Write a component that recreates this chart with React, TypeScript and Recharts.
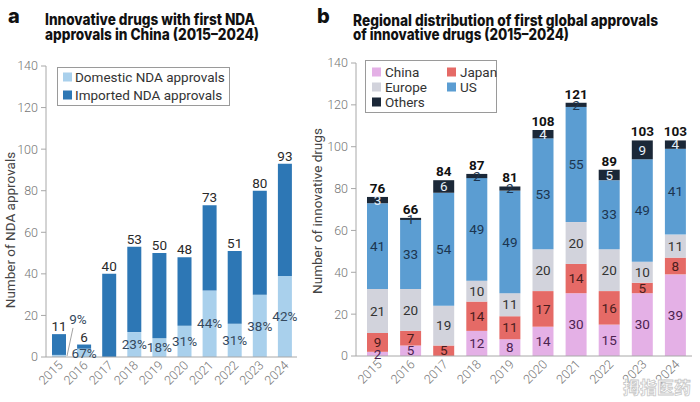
import React from 'react';
import { BarChart, Bar, XAxis, YAxis, LabelList } from 'recharts';

if (typeof document !== 'undefined') {
  document.body.style.margin = '0';
}

// ---------- data ----------
const years = ['2015', '2016', '2017', '2018', '2019', '2020', '2021', '2022', '2023', '2024'];

// Panel a
const domesticNda = [1, 4, 0, 12, 9, 15, 32, 16, 30, 39];
const importedNda = [10, 2, 40, 41, 41, 33, 41, 35, 50, 54];
const ndaTotals = [11, 6, 40, 53, 50, 48, 73, 51, 80, 93];
const domesticShare = ['9%', '67%', '', '23%', '18%', '31%', '44%', '31%', '38%', '42%'];

// Panel b
const chinaFirst = [2, 5, 0, 12, 8, 14, 30, 15, 30, 39];
const japanFirst = [9, 7, 5, 14, 11, 17, 14, 16, 5, 8];
const europeFirst = [21, 20, 19, 10, 11, 20, 20, 20, 10, 11];
const usFirst = [41, 33, 54, 49, 49, 53, 55, 33, 49, 41];
const othersFirst = [3, 1, 6, 2, 2, 4, 2, 5, 9, 4];
const globalTotals = [76, 66, 84, 87, 81, 108, 121, 89, 103, 103];

const yTicks = [0, 20, 40, 60, 80, 100, 120, 140];

const legendA = ['Domestic NDA approvals', 'Imported NDA approvals'];
const legendB = ['China', 'Japan', 'Europe', 'US', 'Others'];

// ---------- tables ----------
const ndaData = years.map((year, i) => ({
  year,
  domestic: domesticNda[i],
  imported: importedNda[i],
  total: ndaTotals[i],
  pct: domesticShare[i],
}));

const globalData = years.map((year, i) => ({
  year,
  china: chinaFirst[i],
  japan: japanFirst[i],
  europe: europeFirst[i],
  us: usFirst[i],
  others: othersFirst[i],
  total: globalTotals[i],
}));

// ---------- styles ----------
const C = {
  domestic: '#a9d0ec',
  imported: '#2d77b5',
  china: '#e4b0e6',
  japan: '#e56a66',
  europe: '#d2d3dc',
  us: '#5b9dd2',
  others: '#1b2838',
};
const FONT = 'Roboto, "Noto Sans", sans-serif';
const TITLE_FONT = 'Inter, "Open Sans", sans-serif';
const tickGray = '#767676';
const axisGray = '#a8a8a8';

const XTick = (props: any) => {
  const { x, y, payload } = props;
  const ax = x + 5;
  const ay = y + 9;
  return (
    <text
      x={ax}
      y={ay}
      transform={`rotate(-45 ${ax} ${ay})`}
      textAnchor="end"
      fontSize={12.5}
      fill={tickGray}
      fontFamily={FONT}
      fontWeight={300}
    >
      {payload.value}
    </text>
  );
};

const PctLabel = (props: any) => {
  const { x, y, width, height, value } = props;
  if (!value) return null;
  if (height < 4) {
    const rx = x + width;
    return (
      <g>
        <line x1={rx + 1} y1={y + height - 1} x2={rx + 7} y2={y - 27} stroke="#8a8a8a" strokeWidth={0.8} />
        <text x={rx + 12} y={y - 31} textAnchor="middle" fontSize={13.5} fill="#34495e" fontFamily={FONT}>
          {value}
        </text>
      </g>
    );
  }
  return (
    <text
      x={x + width / 2}
      y={y + height / 2}
      dy="0.35em"
      textAnchor="middle"
      fontSize={13.5}
      fill="#34495e"
      fontFamily={FONT}
    >
      {value}
    </text>
  );
};

const segLabel = (color: string, smallColor?: string) => (props: any) => {
  const { x, y, width, height, value } = props;
  if (!value) return null;
  const fill = smallColor && height < 6 ? smallColor : color;
  return (
    <text
      x={x + width / 2}
      y={y + height / 2}
      dy="0.35em"
      textAnchor="middle"
      fontSize={13.5}
      fill={fill}
      fontFamily={FONT}
    >
      {value}
    </text>
  );
};

const chinaLabel = segLabel('#4d2351');
const japanLabel = segLabel('#4a1c1c');
const europeLabel = segLabel('#333333');
const usLabel = segLabel('#1c3550');
const othersLabel = segLabel('#e6f0fa', '#1c3550');

const yTickStyle = { fontSize: 12.5, fill: tickGray, fontFamily: FONT, fontWeight: 300 };

export default function App() {
  const legendColorsB = [C.china, C.japan, C.europe, C.us, C.others];
  return (
    <div style={{ position: 'relative', width: 700, height: 402, background: '#fff', overflow: 'hidden' }}>
      {/* Panel a */}
      <div style={{ position: 'absolute', left: 0, top: 0 }}>
        <BarChart width={300} height={402} data={ndaData} margin={{ top: 66, right: 3, bottom: 5, left: 0 }}>
          <XAxis
            dataKey="year"
            height={40}
            tickSize={0}
            tickMargin={0}
            tickLine={false}
            axisLine={{ stroke: axisGray }}
            tick={<XTick />}
            interval={0}
          />
          <YAxis
            width={46}
            domain={[0, 140]}
            ticks={yTicks}
            tickSize={5}
            tickMargin={3}
            axisLine={{ stroke: axisGray }}
            tickLine={{ stroke: axisGray }}
            tick={yTickStyle}
          />
          <Bar dataKey="domestic" stackId="a" fill={C.domestic} barSize={14} isAnimationActive={false}>
            <LabelList dataKey="pct" content={<PctLabel />} />
          </Bar>
          <Bar dataKey="imported" stackId="a" fill={C.imported} barSize={14} isAnimationActive={false}>
            <LabelList
              dataKey="total"
              position="top"
              offset={3}
              style={{ fontSize: 13.5, fill: '#2a2a2a', fontFamily: FONT }}
            />
          </Bar>
        </BarChart>
      </div>

      {/* Panel b */}
      <div style={{ position: 'absolute', left: 300, top: 0 }}>
        <BarChart width={400} height={402} data={globalData} margin={{ top: 63, right: 8, bottom: 6, left: 0 }}>
          <XAxis
            dataKey="year"
            height={40}
            tickSize={0}
            tickMargin={0}
            tickLine={false}
            axisLine={{ stroke: axisGray }}
            tick={<XTick />}
            interval={0}
            padding={{ left: 5, right: 0 }}
          />
          <YAxis
            width={56}
            domain={[0, 140]}
            ticks={yTicks}
            tickSize={5}
            tickMargin={3}
            axisLine={{ stroke: axisGray }}
            tickLine={{ stroke: axisGray }}
            tick={yTickStyle}
          />
          <Bar dataKey="china" stackId="b" fill={C.china} barSize={21} isAnimationActive={false}>
            <LabelList dataKey="china" content={chinaLabel} />
          </Bar>
          <Bar dataKey="japan" stackId="b" fill={C.japan} barSize={21} isAnimationActive={false}>
            <LabelList dataKey="japan" content={japanLabel} />
          </Bar>
          <Bar dataKey="europe" stackId="b" fill={C.europe} barSize={21} isAnimationActive={false}>
            <LabelList dataKey="europe" content={europeLabel} />
          </Bar>
          <Bar dataKey="us" stackId="b" fill={C.us} barSize={21} isAnimationActive={false}>
            <LabelList dataKey="us" content={usLabel} />
          </Bar>
          <Bar dataKey="others" stackId="b" fill={C.others} barSize={21} isAnimationActive={false}>
            <LabelList dataKey="others" content={othersLabel} />
            <LabelList
              dataKey="total"
              position="top"
              offset={4}
              style={{ fontSize: 13.5, fill: '#111', fontFamily: FONT, fontWeight: 700 }}
            />
          </Bar>
        </BarChart>
      </div>

      {/* Overlay: titles, axis titles, legends */}
      <svg
        width={700}
        height={402}
        style={{ position: 'absolute', left: 0, top: 0, pointerEvents: 'none' }}
      >
        <g fontFamily={TITLE_FONT} fill="#111" fontWeight={800}>
          <text x={8} y={23} fontSize={20}>a</text>
          <text x={45} y={25} fontSize={15.5} textLength={210} lengthAdjust="spacingAndGlyphs">
            Innovative drugs with first NDA
          </text>
          <text x={45} y={39.5} fontSize={15.5} textLength={214} lengthAdjust="spacingAndGlyphs">
            approvals in China (2015–2024)
          </text>
          <text x={317} y={23} fontSize={20}>b</text>
          <text x={353} y={26} fontSize={15.5} textLength={305} lengthAdjust="spacingAndGlyphs">
            Regional distribution of first global approvals
          </text>
          <text x={353} y={40} fontSize={15.5} textLength={216} lengthAdjust="spacingAndGlyphs">
            of innovative drugs (2015–2024)
          </text>
        </g>

        <text
          x={15}
          y={230}
          transform="rotate(-90 15 230)"
          textAnchor="middle"
          fontSize={13.5}
          fill="#444"
          fontFamily={FONT}
        >
          Number of NDA approvals
        </text>
        <text
          x={322}
          y={211}
          transform="rotate(-90 322 211)"
          textAnchor="middle"
          fontSize={13.5}
          fill="#444"
          fontFamily={FONT}
        >
          Number of innovative drugs
        </text>

        {/* legend a */}
        <rect x={57.5} y={67.5} width={172} height={38} fill="#fff" stroke="#9a9a9a" strokeWidth={1} />
        {legendA.map((name, i) => (
          <g key={name}>
            <rect x={63} y={72.5 + i * 18} width={9} height={9} fill={i === 0 ? C.domestic : C.imported} />
            <text x={75} y={81.5 + i * 18} fontSize={13.5} fill="#333" fontFamily={FONT}>
              {name}
            </text>
          </g>
        ))}

        {/* legend b */}
        <rect x={365.5} y={60.5} width={131} height={52} fill="#fff" stroke="#9a9a9a" strokeWidth={1} />
        {legendB.map((name, i) => {
          const col = i % 2;
          const row = Math.floor(i / 2);
          const sx = col === 0 ? 372 : 447;
          const cy = 72 + row * 15;
          return (
            <g key={name}>
              <rect x={sx} y={cy - 4.5} width={9} height={9} fill={legendColorsB[i]} />
              <text x={sx + 13} y={cy + 4.8} fontSize={13.5} fill="#333" fontFamily={FONT}>
                {name}
              </text>
            </g>
          );
        })}

        {/* watermark */}
        <text
          x={623}
          y={394}
          fontSize={17}
          fill="#ffffff"
          stroke="#c8c8c8"
          strokeWidth={0.8}
          fontFamily='"Noto Sans CJK SC", sans-serif'
          fontWeight={700}
        >
          拇指医药
        </text>
      </svg>
    </div>
  );
}
